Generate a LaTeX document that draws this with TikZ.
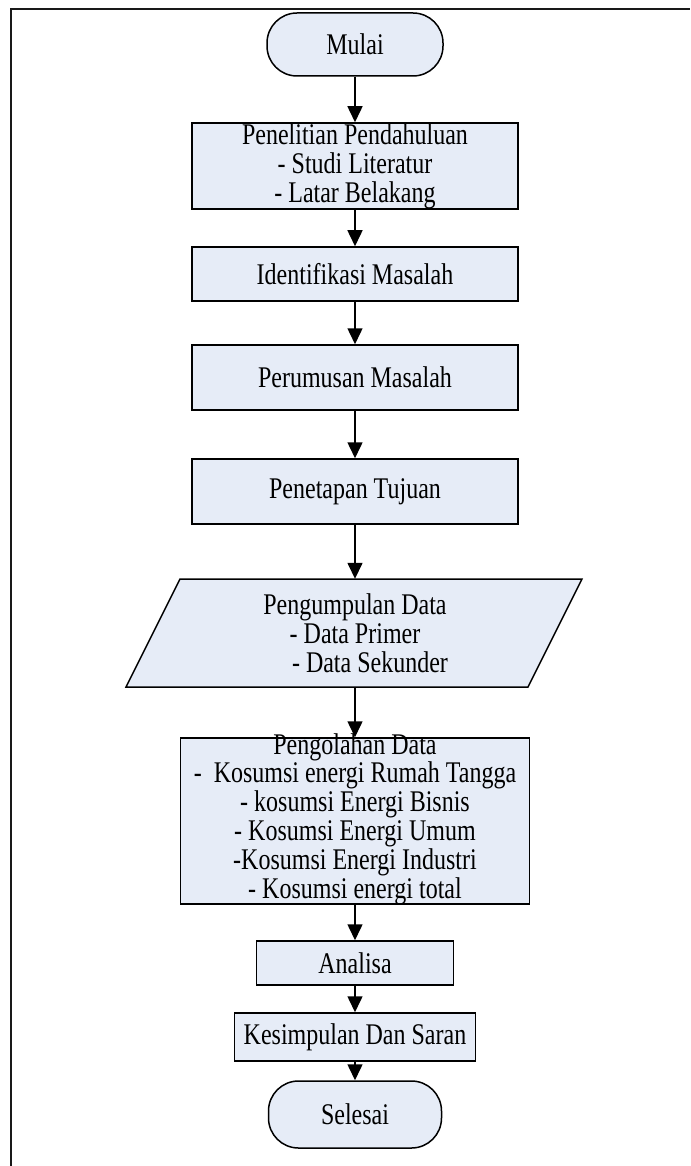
\documentclass[tikz,border=0pt]{standalone}
\usepackage{fontspec}
\setmainfont{Liberation Serif}[FakeStretch=0.8]
\usetikzlibrary{arrows.meta}
\definecolor{boxfill}{RGB}{230,236,247}
\begin{document}
\begin{tikzpicture}[x=1pt,y=-1pt,
  font=\fontsize{30}{29}\selectfont,
  stepbox/.style={draw=black, line width=1.5pt, fill=boxfill, align=center, inner sep=0pt},
  termbox/.style={stepbox, rounded corners=30pt},
  flow/.style={draw=black, line width=1.5pt, -{Triangle[length=16pt,width=15pt]}},
  frameline/.style={draw=black!90, line width=2pt}]
\useasboundingbox (0,0) rectangle (690,1166);
\draw[frameline] (11,1166) -- (11,9) -- (690,9);

\node (mulai) [termbox, minimum width=176, minimum height=63] at (355,44.5) {Mulai};
\node (p1) [stepbox, minimum width=326, minimum height=86] at (355,166) {Penelitian Pendahuluan\\- Studi Literatur\\- Latar Belakang};
\node (p2) [stepbox, minimum width=326, minimum height=54] at (355,274) {Identifikasi Masalah};
\node (p3) [stepbox, minimum width=326, minimum height=65] at (355,377.5) {Perumusan Masalah};
\node (p4) [stepbox, minimum width=326, minimum height=65] at (355,491.5) {Penetapan Tujuan};

\path[draw=black, line width=1.5pt, fill=boxfill] (180,579) -- (582,579) -- (528,687) -- (126,687) -- cycle;
\node (data) [align=center, inner sep=0pt, minimum width=350, minimum height=108] at (355,633) {Pengumpulan Data\\- Data Primer\\\hspace*{30pt}- Data Sekunder};

\node (olah) [stepbox, minimum width=349, minimum height=166] at (355,821) {};
\node (olahtext) [align=center, inner sep=0pt, font=\fontsize{30}{28.8}\selectfont] at (355,819) {Pengolahan Data\\-\ \ Kosumsi energi Rumah Tangga\\- kosumsi Energi Bisnis\\- Kosumsi Energi Umum\\-Kosumsi Energi Industri\\- Kosumsi energi total};

\node (analisa) [stepbox, minimum width=197, minimum height=44] at (355,963) {Analisa};
\node (simpul) [stepbox, minimum width=241, minimum height=48] at (355,1037) {Kesimpulan Dan Saran};
\node (selesai) [termbox, minimum width=173, minimum height=67] at (355,1114.5) {Selesai};

\draw[flow] (mulai) -- (p1);
\draw[flow] (p1) -- (p2);
\draw[flow] (p2) -- (p3);
\draw[flow] (p3) -- (p4);
\draw[flow] (p4) -- (data);
\draw[flow] (data) -- (olah);
\draw[flow] (olah) -- (analisa);
\draw[flow] (analisa) -- (simpul);
\draw[flow] (simpul) -- (selesai);
\end{tikzpicture}
\end{document}
